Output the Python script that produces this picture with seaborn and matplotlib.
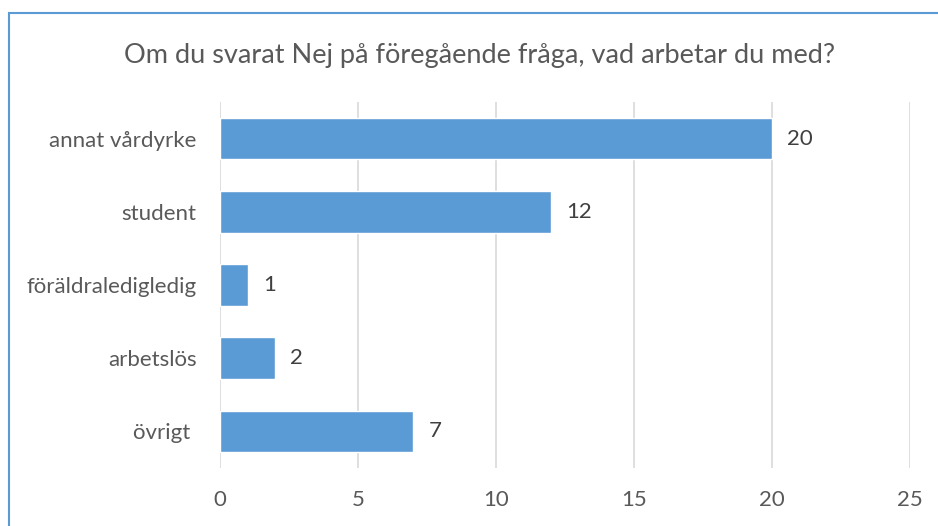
import matplotlib
matplotlib.use("Agg")
import matplotlib.pyplot as plt
import seaborn as sns
import pandas as pd
from matplotlib.patches import Rectangle

categories = ["annat vårdyrke", "student", "föräldraledigledig", "arbetslös", "övrigt "]
values = [20, 12, 1, 2, 7]
x_ticks = [0, 5, 10, 15, 20, 25]
title = "Om du svarat Nej på föregående fråga, vad arbetar du med?"

df = pd.DataFrame({"kategori": categories, "antal": values})

sns.set_theme(style="white")
plt.rcParams["font.family"] = ["Lato", "DejaVu Sans"]

fig = plt.figure(figsize=(9.38, 5.26), dpi=100)
ax = fig.add_axes([220/938, 1 - 468/526, (910-220)/938, (468-102)/526])

sns.barplot(data=df, x="antal", y="kategori", orient="h", color="#5B9BD5",
            saturation=1, width=0.57, ax=ax, zorder=3)

ax.set_xlim(0, 25)
ax.set_xticks(x_ticks)
ax.set_xticklabels([str(t) for t in x_ticks])
ax.grid(axis="x", color="#D9D9D9", linewidth=1.2, zorder=0)
ax.set_axisbelow(True)
for s in ax.spines.values():
    s.set_visible(False)
ax.set_xlabel("")
ax.set_ylabel("")
ax.tick_params(axis="both", length=0, labelsize=16, labelcolor="#595959")
ax.tick_params(axis="x", pad=16)
ax.tick_params(axis="y", pad=17)

for i, v in enumerate(values):
    ax.annotate(str(v), xy=(v, i), xytext=(11, 0), textcoords="offset points",
                va="center", ha="left", fontsize=16, color="#404040")

fig.text(480/938, 1 - 55/526, title, ha="center", va="center", fontsize=19.5, color="#595959")

fig.patches.append(Rectangle((9/938, -0.05), 1.1, 1 - 13/526 + 0.05, transform=fig.transFigure,
                             fill=False, edgecolor="#5B9BD5", linewidth=1.5, clip_on=False))

fig.savefig("out.png", dpi=100)
